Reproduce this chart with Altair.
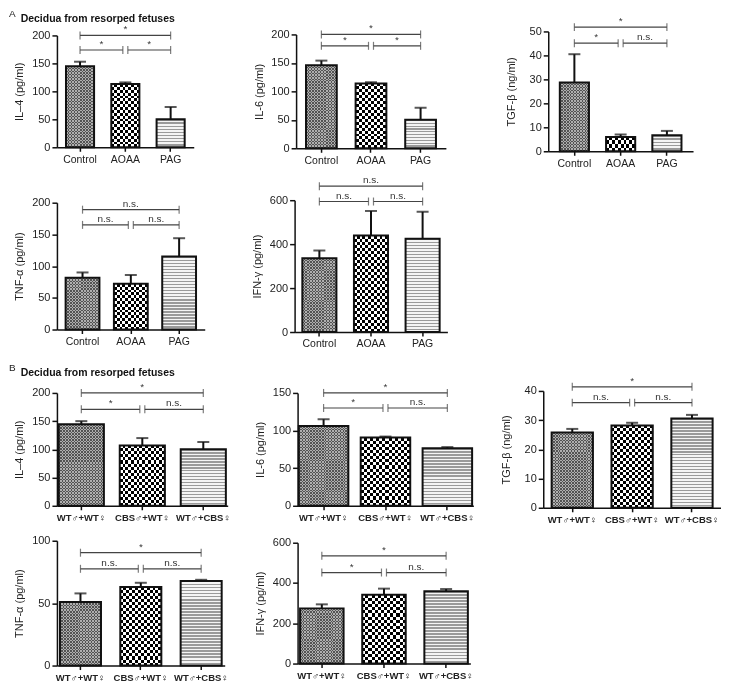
import altair as alt
import pandas as pd

FONT = "Liberation Sans"

# ---------------- data ----------------
A_CATS = ["Control", "AOAA", "PAG"]
B_CATS = ["WT\u2642+WT\u2640", "CBS\u2642+WT\u2640", "WT\u2642+CBS\u2640"]

A_IL4_MEAN = [145, 113, 50]
A_IL4_ERR = [8, 3, 22]
A_IL4_SIG = ["*", "*", "*"]          # top bracket, left bracket, right bracket
A_IL4_BRACKETS = [200, 174]          # heights of top / lower brackets

A_IL6_MEAN = [146, 114, 50]
A_IL6_ERR = [8, 2, 21]
A_IL6_SIG = ["*", "*", "*"]
A_IL6_BRACKETS = [200, 180]

A_TGF_MEAN = [28.7, 6.0, 6.7]
A_TGF_ERR = [11.8, 1.0, 1.8]
A_TGF_SIG = ["*", "*", "n.s."]
A_TGF_BRACKETS = [51.8, 45.1]

A_TNF_MEAN = [81.5, 72, 115]
A_TNF_ERR = [8.5, 14, 29]
A_TNF_SIG = ["n.s.", "n.s.", "n.s."]
A_TNF_BRACKETS = [189, 165]

A_IFN_MEAN = [336, 439, 424]
A_IFN_ERR = [35, 112, 123]
A_IFN_SIG = ["n.s.", "n.s.", "n.s."]
A_IFN_BRACKETS = [664, 594]

B_IL4_MEAN = [144.5, 107, 100]
B_IL4_ERR = [5.5, 13, 13]
B_IL4_SIG = ["*", "*", "n.s."]
B_IL4_BRACKETS = [200, 171]

B_IL6_MEAN = [106, 90.7, 76.5]
B_IL6_ERR = [9, 1.3, 1.5]
B_IL6_SIG = ["*", "*", "n.s."]
B_IL6_BRACKETS = [150, 130]

B_TGF_MEAN = [25.8, 28.2, 30.6]
B_TGF_ERR = [1.2, 0.9, 1.2]
B_TGF_SIG = ["*", "n.s.", "n.s."]
B_TGF_BRACKETS = [41.4, 36]

B_TNF_MEAN = [51, 63, 67.7]
B_TNF_ERR = [6.8, 3.3, 1.0]
B_TNF_SIG = ["*", "n.s.", "n.s."]
B_TNF_BRACKETS = [90.4, 77.5]

B_IFN_MEAN = [274, 342, 359]
B_IFN_ERR = [20, 30, 11]
B_IFN_SIG = ["*", "*", "n.s."]
B_IFN_BRACKETS = [535, 452]

TICKS_200 = [0, 50, 100, 150, 200]
TICKS_150 = [0, 50, 100, 150]
TICKS_100 = [0, 50, 100]
TICKS_50 = [0, 10, 20, 30, 40, 50]
TICKS_40 = [0, 10, 20, 30, 40]
TICKS_600 = [0, 200, 400, 600]

SECTION_TITLE = "Decidua from resorped fetuses"


# ---------------- helpers (styling only) ----------------
def stops(n, on, off, duty):
    n = max(1, int(round(n)))
    out = []
    for k in range(n):
        a, b, c = k / n, (k + duty) / n, (k + 1) / n
        out += [
            {"offset": round(a, 5), "color": on},
            {"offset": round(b, 5), "color": on},
            {"offset": round(b, 5), "color": off},
            {"offset": round(c, 5), "color": off},
        ]
    return out


def gradient(along_y, st):
    if along_y:
        return {"gradient": "linear", "x1": 0, "y1": 0, "x2": 0, "y2": 1, "stops": st}
    return {"gradient": "linear", "x1": 0, "y1": 0, "x2": 1, "y2": 0, "stops": st}


def panel(cats, mean, err, sig, brackets, ytitle, ymax, ticks, lay, b_style):
    W, H, pin, pout = lay
    step = W / (3 - pin + 2 * pout)
    bw = step * (1 - pin)
    df = pd.DataFrame({"cat": cats, "v": mean, "v2": [m + e for m, e in zip(mean, err)]})
    xs = alt.Scale(domain=cats, paddingInner=pin, paddingOuter=pout)
    ys = alt.Scale(domain=[0, ymax], nice=False, zero=True)
    xaxis = alt.Axis(title=None, labelAngle=0, tickSize=4, labelPadding=3,
                     labelFontSize=9.5 if b_style else 10.5,
                     labelFontWeight="bold" if b_style else "normal",
                     labelOverlap=False)
    yaxis = alt.Axis(title=ytitle, values=ticks, tickSize=5, labelPadding=2,
                     titleX=-32, titleBaseline="bottom")

    def X(field="cat"):
        return alt.X(f"{field}:N", scale=xs, axis=xaxis)

    def Y(field="v"):
        return alt.Y(f"{field}:Q", scale=ys, axis=yaxis)

    layers = [alt.Chart(df).mark_bar(fill="white", strokeWidth=0).encode(x=X(), y=Y())]
    on, off = "#ffffff", "rgba(255,255,255,0)"
    for i in range(3):
        one = df.iloc[[i]]
        hpx = mean[i] / ymax * H
        if i == 2:
            layers.append(alt.Chart(one).mark_bar(
                fill=gradient(True, stops(hpx / 3.0, "#9a9a9a", "#f4f4f4", 0.45)),
                strokeWidth=0).encode(x=X(), y=Y()))
        else:
            period = 3.0 if i == 0 else 6.0
            layers.append(alt.Chart(one).mark_bar(
                fill=gradient(True, stops(hpx / period, on, off, 0.5)),
                blend="difference", strokeWidth=0).encode(x=X(), y=Y()))
            layers.append(alt.Chart(one).mark_bar(
                fill=gradient(False, stops(bw / period, on, off, 0.5)),
                blend="difference", strokeWidth=0).encode(x=X(), y=Y()))
            if i == 0:
                layers.append(alt.Chart(one).mark_bar(
                    fill="#828282", fillOpacity=0.64, strokeWidth=0).encode(x=X(), y=Y()))
    layers.append(alt.Chart(df).mark_bar(fill="transparent", stroke="#111", strokeWidth=2)
                  .encode(x=X(), y=Y()))
    layers.append(alt.Chart(df).mark_rule(color="#111", strokeWidth=2)
                  .encode(x=X(), y=Y("v"), y2="v2:Q"))
    layers.append(alt.Chart(df).mark_tick(color="#111", thickness=2, size=12)
                  .encode(x=X(), y=Y("v2")))

    g = 2.5
    BR = dict(color="#444", strokeWidth=1.2)
    top = pd.DataFrame({"a": [cats[0]], "b": [cats[2]], "y": [brackets[0]]})
    lowL = pd.DataFrame({"a": [cats[0]], "b": [cats[1]], "y": [brackets[1]]})
    lowR = pd.DataFrame({"a": [cats[1]], "b": [cats[2]], "y": [brackets[1]]})
    layers.append(alt.Chart(top).mark_rule(**BR).encode(x=X("a"), x2="b:N", y=Y("y")))
    layers.append(alt.Chart(lowL).mark_rule(x2Offset=-g, **BR).encode(x=X("a"), x2="b:N", y=Y("y")))
    layers.append(alt.Chart(lowR).mark_rule(xOffset=g, **BR).encode(x=X("a"), x2="b:N", y=Y("y")))
    ends = pd.DataFrame({"a": [cats[0], cats[2], cats[0], cats[2]],
                         "y": [brackets[0], brackets[0], brackets[1], brackets[1]]})
    TK = dict(orient="vertical", size=8, thickness=1.2, color="#444")
    layers.append(alt.Chart(ends).mark_tick(**TK).encode(x=X("a"), y=Y("y")))
    mid = pd.DataFrame({"a": [cats[1]], "y": [brackets[1]]})
    layers.append(alt.Chart(mid).mark_tick(xOffset=-g, **TK).encode(x=X("a"), y=Y("y")))
    layers.append(alt.Chart(mid).mark_tick(xOffset=g, **TK).encode(x=X("a"), y=Y("y")))

    TX = dict(baseline="bottom", dy=-1, fontSize=10, color="#333", font=FONT)
    t_top = pd.DataFrame({"a": [cats[1]], "y": [brackets[0]], "t": [sig[0]]})
    t_l = pd.DataFrame({"a": [cats[0]], "y": [brackets[1]], "t": [sig[1]]})
    t_r = pd.DataFrame({"a": [cats[1]], "y": [brackets[1]], "t": [sig[2]]})
    layers.append(alt.Chart(t_top).mark_text(**TX).encode(x=X("a"), y=Y("y"), text="t:N"))
    layers.append(alt.Chart(t_l).mark_text(dx=(step - g) / 2, **TX).encode(x=X("a"), y=Y("y"), text="t:N"))
    layers.append(alt.Chart(t_r).mark_text(dx=(step + g) / 2, **TX).encode(x=X("a"), y=Y("y"), text="t:N"))

    return alt.layer(*layers).properties(width=W, height=H)


# layout: width, height, paddingInner, paddingOuter
a_il4 = panel(A_CATS, A_IL4_MEAN, A_IL4_ERR, A_IL4_SIG, A_IL4_BRACKETS, "IL\u20134 (pg/ml)", 200, TICKS_200, (137, 112, 0.38, 0.20), False)
a_il6 = panel(A_CATS, A_IL6_MEAN, A_IL6_ERR, A_IL6_SIG, A_IL6_BRACKETS, "IL-6 (pg/ml)", 200, TICKS_200, (150, 114, 0.38, 0.20), False)
a_tgf = panel(A_CATS, A_TGF_MEAN, A_TGF_ERR, A_TGF_SIG, A_TGF_BRACKETS, "TGF-\u03b2 (ng/ml)", 50, TICKS_50, (145, 120, 0.37, 0.25), False)
a_tnf = panel(A_CATS, A_TNF_MEAN, A_TNF_ERR, A_TNF_SIG, A_TNF_BRACKETS, "TNF-\u03b1 (pg/ml)", 200, TICKS_200, (148, 127, 0.30, 0.18), False)
a_ifn = panel(A_CATS, A_IFN_MEAN, A_IFN_ERR, A_IFN_SIG, A_IFN_BRACKETS, "IFN-\u03b3 (pg/ml)", 600, TICKS_600, (153, 132, 0.34, 0.15), False)

b_il4 = panel(B_CATS, B_IL4_MEAN, B_IL4_ERR, B_IL4_SIG, B_IL4_BRACKETS, "IL\u20134 (pg/ml)", 200, TICKS_200, (171, 113, 0.26, 0.03), True)
b_il6 = panel(B_CATS, B_IL6_MEAN, B_IL6_ERR, B_IL6_SIG, B_IL6_BRACKETS, "IL-6 (pg/ml)", 150, TICKS_150, (176, 113, 0.20, 0.02), True)
b_tgf = panel(B_CATS, B_TGF_MEAN, B_TGF_ERR, B_TGF_SIG, B_TGF_BRACKETS, "TGF-\u03b2 (ng/ml)", 40, TICKS_40, (178, 117, 0.31, 0.14), True)
b_tnf = panel(B_CATS, B_TNF_MEAN, B_TNF_ERR, B_TNF_SIG, B_TNF_BRACKETS, "TNF-\u03b1 (pg/ml)", 100, TICKS_100, (168, 125, 0.32, 0.05), True)
b_ifn = panel(B_CATS, B_IFN_MEAN, B_IFN_ERR, B_IFN_SIG, B_IFN_BRACKETS, "IFN-\u03b3 (pg/ml)", 600, TICKS_600, (173, 121, 0.30, 0.04), True)


def sec_title(letter, offset):
    return alt.TitleParams(
        text=letter, subtitle="\u200b\u00a0\u00a0\u00a0\u00a0" + SECTION_TITLE,
        anchor="start", frame="bounds", dx=-5, offset=offset,
        font=FONT, fontSize=10, fontWeight="normal", color="#222",
        subtitleFont=FONT, subtitleFontSize=10.5, subtitleFontWeight="bold",
        subtitleColor="#111", subtitlePadding=-5)


row_a1 = alt.hconcat(a_il4, a_il6, a_tgf, spacing=102.5, bounds="flush", center=True)
row_a2 = alt.hconcat(a_tnf, a_ifn, spacing=90, bounds="flush", center=True)
row_b1 = alt.hconcat(b_il4, b_il6, b_tgf, spacing=70, bounds="flush", center=True)
row_b2 = alt.hconcat(b_tnf, b_ifn, spacing=73, bounds="flush", center=True)

sec_a = alt.vconcat(row_a1, row_a2, spacing=5, title=sec_title("A", -8))
sec_b = alt.vconcat(row_b1, row_b2, spacing=10, title=sec_title("B", -3))

chart = (
    alt.vconcat(sec_a, sec_b, spacing=13)
    .properties(padding=0, background="white")
    .configure_view(stroke=None)
    .configure_axis(
        domainColor="#111", domainWidth=1.5, tickColor="#111", tickWidth=1.5,
        labelFont=FONT, labelFontSize=11, labelColor="#222",
        titleFont=FONT, titleFontSize=11, titleFontWeight="normal", titleColor="#222",
        grid=False)
)

chart.save("out.html", embed_options={"renderer": "svg", "actions": False})
